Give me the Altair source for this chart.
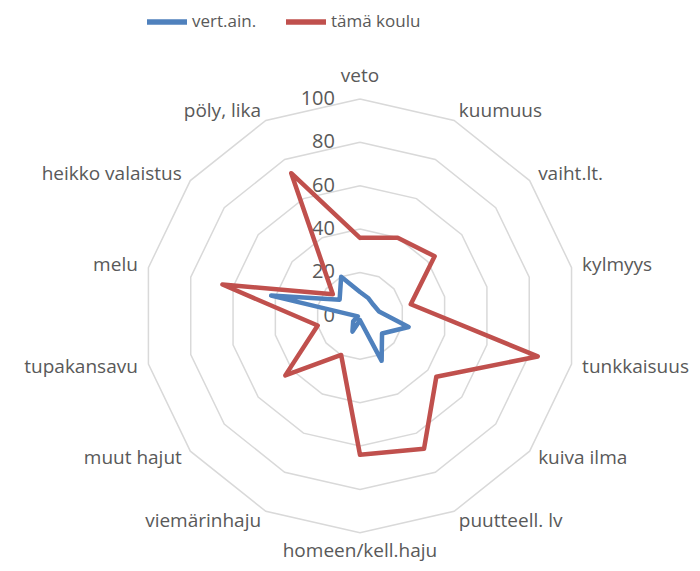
import altair as alt
import pandas as pd

categories = ["veto", "kuumuus", "vaiht.lt.", "kylmyys", "tunkkaisuus", "kuiva ilma",
              "puutteell. lv", "homeen/kell.haju", "viemärinhaju", "muut hajut",
              "tupakansavu", "melu", "heikko valaistus", "pöly, lika"]
vert_ain = [11, 9, 8, 9, 23, 13, 23, 2, 8, 4, 1, 42, 12, 20]
tama_koulu = [36, 40, 44, 24, 84, 45, 68, 64, 20, 44, 20, 65, 16, 73]
series_names = ["vert.ain.", "tämä koulu"]
series_colors = ["#4F81BD", "#C0504D"]
ring_levels = [20, 40, 60, 80, 100]
tick_levels = [0, 20, 40, 60, 80, 100]

N = len(categories)

def closed(name, vals):
    return pd.DataFrame({
        "idx": list(range(N + 1)),
        "category": [categories[i % N] for i in range(N + 1)],
        "value": [vals[i % N] for i in range(N + 1)],
        "series": name,
    })

red_df = closed(series_names[1], tama_koulu)
blue_df = closed(series_names[0], vert_ain)
ring_df = pd.DataFrame([{"level": L, "idx": i, "value": L} for L in ring_levels for i in range(N + 1)])
lab_df = pd.DataFrame({"idx": list(range(N)), "category": categories, "value": [105] * N})
tick_df = pd.DataFrame({"value": tick_levels, "label": [str(t) for t in tick_levels]})

xs = alt.Scale(domain=[-162.2, 153.0], nice=False, zero=False)
ys = alt.Scale(domain=[-113.9, 141.9], nice=False, zero=False)

def polar(ch):
    return ch.transform_calculate(
        ang="datum.idx * 2 * PI / %d" % N,
        px="datum.value * sin(datum.ang)",
        py="datum.value * cos(datum.ang)",
    )

X = alt.X("px:Q", scale=xs, axis=None)
Y = alt.Y("py:Q", scale=ys, axis=None)

rings = polar(alt.Chart(ring_df)).mark_line(color="#D9D9D9", strokeWidth=1.5).encode(
    x=X, y=Y, detail="level:N", order="idx:Q")

color = alt.Color("series:N", scale=alt.Scale(domain=series_names, range=series_colors),
                  legend=alt.Legend(orient="none", legendX=136, legendY=-9, direction="horizontal",
                                    title=None, symbolType="stroke", symbolStrokeWidth=5.5,
                                    symbolSize=1600, labelFontSize=17, labelFont="Open Sans",
                                    labelColor="#595959", columnPadding=18, labelOffset=2))

def series_layer(df):
    return polar(alt.Chart(df)).mark_line(strokeWidth=4.5, strokeJoin="round", strokeCap="round").encode(
        x=X, y=Y, color=color, order="idx:Q")

red = series_layer(red_df)
blue = series_layer(blue_df)

txt = dict(font="Open Sans", fontSize=19, color="#595959")
base_lab = polar(alt.Chart(lab_df))
lab_top = base_lab.transform_filter("datum.idx == 0").mark_text(align="center", baseline="alphabetic", dy=-6, **txt).encode(x=X, y=Y, text="category:N")
lab_bot = base_lab.transform_filter("datum.idx == %d" % (N // 2)).mark_text(align="center", baseline="alphabetic", dy=13, **txt).encode(x=X, y=Y, text="category:N")
lab_right = base_lab.transform_filter("datum.idx > 0 && datum.idx < %d" % (N // 2)).mark_text(align="left", baseline="middle", **txt).encode(x=X, y=Y, text="category:N")
lab_left = base_lab.transform_filter("datum.idx > %d" % (N // 2)).mark_text(align="right", baseline="middle", **txt).encode(x=X, y=Y, text="category:N")

ticks = alt.Chart(tick_df).transform_calculate(px="0", py="datum.value").mark_text(
    align="right", baseline="middle", dx=-25, font="Open Sans", fontSize=20, color="#595959").encode(
    x=X, y=Y, text="label:N")

chart = alt.layer(rings, ticks, red, blue, lab_top, lab_bot, lab_right, lab_left).properties(
    width=684, height=555, autosize=alt.AutoSizeParams(type="none"), padding=0
).configure_view(stroke=None)

chart.save("out.html", embed_options={"renderer": "svg", "actions": False})
